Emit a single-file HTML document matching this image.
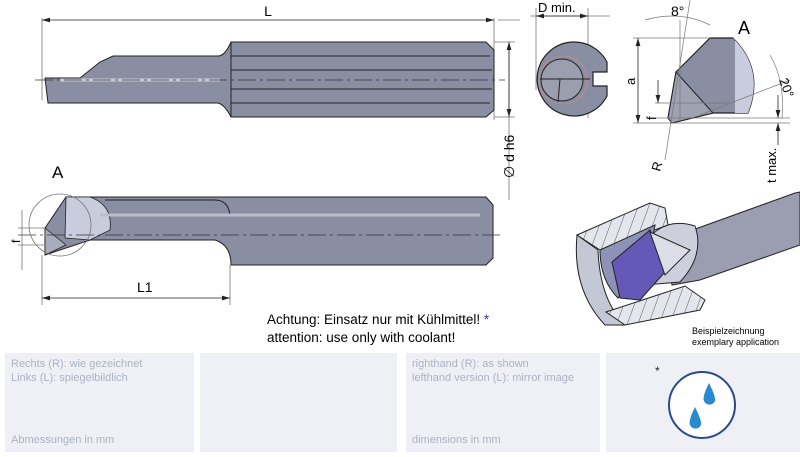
<!DOCTYPE html>
<html><head><meta charset="utf-8"><style>
body{margin:0;width:800px;height:457px;background:#fff;overflow:hidden;font-family:"Liberation Sans",sans-serif}
.box{position:absolute;top:353px;height:99px;background:#eef0f5;color:#aab2c4;font-size:11px;line-height:14px}
</style></head><body>
<svg width="800" height="457" style="position:absolute;left:0;top:0" font-family="Liberation Sans, sans-serif">
<defs><marker id="ar" markerWidth="10" markerHeight="6" refX="10" refY="3" orient="auto-start-reverse"><path d="M0,0L10,3L0,6z" fill="#222"/></marker>
<pattern id="h" width="10" height="10" patternUnits="userSpaceOnUse" patternTransform="rotate(20)"><rect width="10" height="10" fill="#e4e6ee"/><line x1="0" y1="0" x2="0" y2="10" stroke="#333" stroke-width="0.8"/></pattern></defs>
<g stroke="#777" stroke-width="0.8" fill="none">
<line x1="42" y1="18" x2="42" y2="100"/><line x1="494" y1="18" x2="494" y2="120"/><line x1="494" y1="42" x2="515" y2="42"/><line x1="494" y1="117" x2="515" y2="117"/>
<line x1="509" y1="42" x2="509" y2="200"/><line x1="498" y1="20" x2="520" y2="20"/>
</g>
<line x1="42" y1="20" x2="494" y2="20" stroke="#222" stroke-width="0.8" marker-start="url(#ar)" marker-end="url(#ar)"/>
<line x1="509" y1="42" x2="509" y2="117" stroke="#222" stroke-width="0.8" marker-start="url(#ar)" marker-end="url(#ar)"/>
<text x="268" y="16" font-size="14" text-anchor="middle">L</text>
<text transform="translate(514,178) rotate(-90)" font-size="14">∅ d h6</text>
<path d="M45,78 L80,78 L100,62 L113,56 L218,56 Q225,56 231,42 L486,42 L494,50 L494,110 L486,117 L231,117 Q225,105 218,103 L48,103 Z" fill="#8a8ea2" stroke="#222" stroke-width="1"/>
<g stroke="#222" stroke-width="1"><line x1="231" y1="56" x2="490" y2="56"/><line x1="231" y1="70" x2="492" y2="70"/><line x1="231" y1="89" x2="492" y2="89"/><line x1="231" y1="103" x2="490" y2="103"/><line x1="231" y1="42" x2="231" y2="117"/></g>
<path d="M60,80 L220,80" stroke="#c8ccd8" stroke-width="3"/>
<line x1="35" y1="80" x2="505" y2="80" stroke="#333" stroke-width="0.7" stroke-dasharray="18,4,3,4"/>
<text x="52" y="178" font-size="17">A</text>
<path d="M45,228 L66,197 L486,197 L493,205 L493,258 L486,265 L231,265 Q231,245 215,240 L90,240 L45,255 Z" fill="#8a8ea2" stroke="#222" stroke-width="1"/>
<path d="M66,197 L90,197 Q113,205 110,230 L90,240 L65,238 Z" fill="#c8ccdc" stroke="#222" stroke-width="0.8"/>
<path d="M45,228 L66,245 L45,255Z" fill="#a8acbc" stroke="#222" stroke-width="0.8"/>
<path d="M105,200 L215,200 Q228,200 230,215" fill="none" stroke="#222" stroke-width="1"/>
<line x1="100" y1="215" x2="480" y2="215" stroke="#b8bccc" stroke-width="3"/>
<line x1="18" y1="235" x2="500" y2="235" stroke="#333" stroke-width="0.7" stroke-dasharray="18,4,3,4"/>
<circle cx="60" cy="225" r="31" fill="none" stroke="#777" stroke-width="0.8"/>
<g stroke="#777" stroke-width="0.8"><line x1="42" y1="255" x2="42" y2="305"/><line x1="230" y1="265" x2="230" y2="305"/><line x1="18" y1="228" x2="45" y2="228"/><line x1="18" y1="245" x2="45" y2="245"/><line x1="22" y1="210" x2="22" y2="270"/></g>
<line x1="42" y1="298" x2="230" y2="298" stroke="#222" stroke-width="0.8" marker-start="url(#ar)" marker-end="url(#ar)"/>
<text x="137" y="292" font-size="14">L1</text>
<text transform="translate(20,243) rotate(-90)" font-size="12">f</text>
<text x="267" y="324" font-size="13.5">Achtung:   Einsatz nur mit Kühlmittel!  <tspan fill="#33a">*</tspan></text>
<text x="267" y="342" font-size="13.5">attention: use only with coolant!</text>
<g stroke="#777" stroke-width="0.8"><line x1="536" y1="8" x2="536" y2="90"/><line x1="588" y1="8" x2="588" y2="118"/><line x1="530" y1="16" x2="610" y2="16"/></g>
<line x1="536" y1="16" x2="588" y2="16" stroke="#222" stroke-width="0.8" marker-start="url(#ar)" marker-end="url(#ar)"/>
<text x="538" y="12" font-size="13">D min.</text>
<path d="M573,42 A37,37 0 0 1 607,62 L607,72 L593,72 L593,86 L607,86 L607,96 A37,37 0 1 1 573,42Z" fill="#8a8ea2" stroke="#222" stroke-width="1.2"/>
<circle cx="562" cy="80" r="21" fill="#9a9eae" stroke="#222" stroke-width="1"/>
<circle cx="563" cy="80" r="24" fill="none" stroke="#d88" stroke-width="0.6"/>
<line x1="540" y1="79" x2="590" y2="79" stroke="#222"/><line x1="560" y1="79" x2="558" y2="102" stroke="#222"/>
<text x="738" y="34" font-size="18">A</text>
<path d="M676,72 L710,38 L733,38 Q765,70 748,113 L713,113 L672,123 L668,118 Z" fill="#8a8ea2" stroke="#222" stroke-width="1.2"/>
<path d="M733,38 Q765,70 748,113 L735,113 L735,38Z" fill="#c8ccdc"/>
<path d="M676,72 L713,113 L672,123 L668,118Z" fill="#9ea2b2" stroke="#222" stroke-width="1"/>
<g stroke="#777" stroke-width="0.7" fill="none"><line x1="633" y1="38" x2="710" y2="38"/><line x1="633" y1="123" x2="790" y2="123"/><line x1="655" y1="103" x2="730" y2="103"/><line x1="650" y1="118" x2="790" y2="118"/><line x1="665" y1="160" x2="690" y2="0"/><line x1="680" y1="20" x2="680" y2="120"/><line x1="700" y1="115" x2="790" y2="80"/><path d="M645,20 Q680,10 710,25"/><path d="M770,55 Q785,80 782,118"/></g>
<line x1="638" y1="38" x2="638" y2="123" stroke="#222" stroke-width="0.8" marker-start="url(#ar)" marker-end="url(#ar)"/>
<line x1="658" y1="80" x2="658" y2="103" stroke="#222" stroke-width="0.8" marker-end="url(#ar)"/>
<line x1="778" y1="95" x2="778" y2="118" stroke="#222" stroke-width="0.8" marker-end="url(#ar)"/>
<line x1="778" y1="145" x2="778" y2="123" stroke="#222" stroke-width="0.8" marker-end="url(#ar)"/>
<text x="671" y="16" font-size="14">8°</text>
<text transform="translate(635,85) rotate(-90)" font-size="13">a</text>
<text transform="translate(656,120) rotate(-90)" font-size="13">f</text>
<text transform="translate(660,172) rotate(-75)" font-size="13">R</text>
<text transform="translate(779,80) rotate(70)" font-size="13">20°</text>
<text transform="translate(776,183) rotate(-90)" font-size="13">t max.</text>
<!-- application -->
<path d="M665,240 L795,193 L800,192 L800,245 L700,280 L672,285Z" fill="#9a9eb0" stroke="#222"/>
<path d="M640,250 Q660,215 695,226 Q705,255 680,282 L645,285Z" fill="#cdd0dc" stroke="#222"/>
<path d="M577,235 Q572,290 605,325 L625,325 Q600,300 598,250Z" fill="#c4c7d4" stroke="#222"/>
<path d="M577,235 L650,203 L665,208 L668,225 L600,250Z" fill="url(#h)" stroke="#222"/>
<path d="M606,312 L685,286 L705,300 L700,310 L625,325Z" fill="url(#h)" stroke="#222"/>
<path d="M600,250 L655,225 L648,265 L618,298 Q600,280 600,250Z" fill="#8e92b6" stroke="#222"/>
<path d="M612,262 L650,230 L665,272 L640,300 L620,298Z" fill="#6558b6" stroke="#222"/>
<path d="M650,232 L690,250 L665,275Z" fill="#dcdde6" stroke="#222"/>
<text x="692" y="334" font-size="9">Beispielzeichnung</text>
<text x="692" y="345" font-size="9">exemplary application</text>
</svg>
<div class="box" style="left:5px;width:189px"><div style="padding:4px 6px">Rechts (R): wie gezeichnet<br>Links (L): spiegelbildlich</div><div style="position:absolute;left:6px;top:80px">Abmessungen in mm</div></div>
<div class="box" style="left:200px;width:197px"></div>
<div class="box" style="left:406px;width:194px"><div style="padding:4px 6px">righthand (R): as shown<br>lefthand version (L): mirror image</div><div style="position:absolute;left:6px;top:80px">dimensions in mm</div></div>
<div class="box" style="left:606px;width:194px">
<svg width="194" height="99" style="position:absolute;left:0;top:0"><text x="49" y="22" font-size="12" fill="#223">*</text>
<circle cx="96" cy="52" r="33" fill="#fff" stroke="#2a4a90" stroke-width="2"/>
<path d="M103,30 Q96,44 98,48 A6,6 0 0 0 109,48 Q110,44 103,30Z" fill="#2a8ad0"/>
<path d="M89,54 Q82,68 84,72 A6,6 0 0 0 95,72 Q96,68 89,54Z" fill="#2a8ad0"/></svg></div>
</body></html>
